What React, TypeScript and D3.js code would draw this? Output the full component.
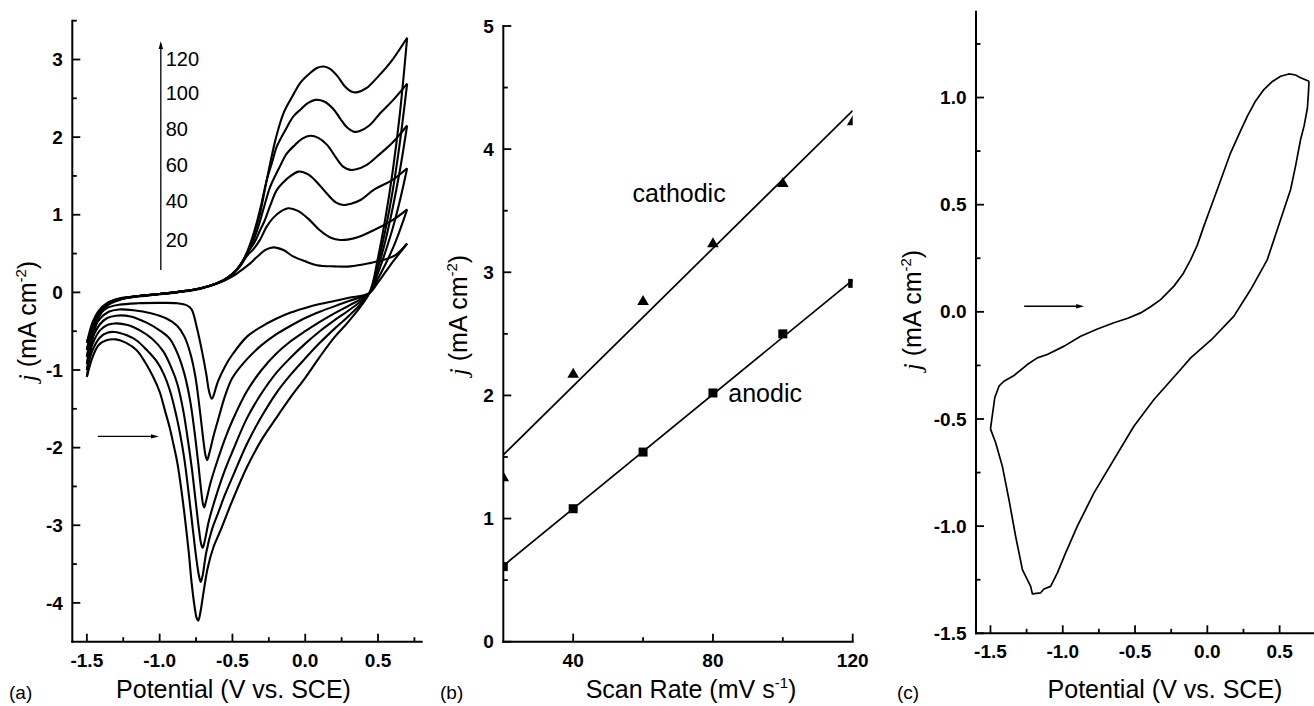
import React from "react";
import * as d3 from "d3";

const FONT = "'Liberation Sans', Arial, Helvetica, sans-serif";

// ---- (a) cyclic voltammograms at several scan rates: [potential (V), j (mA cm-2)]
const scanRates = [20, 40, 60, 80, 100, 120];

const fwd20 = [
  [-1.5, -0.65], [-1.46, -0.44], [-1.42, -0.3], [-1.36, -0.2], [-1.28, -0.16], [-1.15, -0.14],
  [-1.0, -0.135], [-0.88, -0.14], [-0.81, -0.17], [-0.78, -0.22], [-0.745, -0.45], [-0.71, -0.75],
  [-0.68, -1.05], [-0.66, -1.28], [-0.642, -1.37], [-0.63, -1.33], [-0.6, -1.15], [-0.55, -0.95],
  [-0.5, -0.8], [-0.4, -0.57], [-0.3, -0.44], [-0.2, -0.34], [-0.1, -0.26], [0, -0.2], [0.1, -0.15],
  [0.2, -0.11], [0.3, -0.07], [0.44, -0.01], [0.5, 0.13], [0.55, 0.26], [0.6, 0.39], [0.65, 0.51], [0.7, 0.63],
];
const rev20 = [
  [0.7, 0.63], [0.62, 0.48], [0.54, 0.42], [0.45, 0.38], [0.31, 0.335], [0.2, 0.335], [0.08, 0.35],
  [0.0, 0.4], [-0.08, 0.46], [-0.15, 0.545], [-0.218, 0.58], [-0.27, 0.55], [-0.33, 0.46], [-0.38, 0.37],
  [-0.45, 0.27], [-0.5, 0.205], [-0.55, 0.155], [-0.61, 0.11], [-0.723, 0.045], [-0.86, 0.005],
  [-1.0, -0.025], [-1.16, -0.055], [-1.28, -0.085], [-1.36, -0.135], [-1.42, -0.24], [-1.46, -0.38], [-1.5, -0.65],
];

const fwd40 = [
  [-1.5, -0.74], [-1.46, -0.5], [-1.41, -0.34], [-1.35, -0.25], [-1.28, -0.22], [-1.18, -0.23],
  [-1.06, -0.27], [-0.95, -0.34], [-0.88, -0.43], [-0.83, -0.57], [-0.79, -0.78], [-0.755, -1.08],
  [-0.725, -1.5], [-0.7, -1.9], [-0.685, -2.1], [-0.674, -2.16], [-0.66, -2.08], [-0.63, -1.85],
  [-0.6, -1.65], [-0.55, -1.33], [-0.5, -1.1], [-0.4, -0.86], [-0.3, -0.68], [-0.2, -0.54], [-0.1, -0.43],
  [0, -0.33], [0.1, -0.25], [0.2, -0.18], [0.3, -0.11], [0.44, -0.01], [0.5, 0.18], [0.55, 0.36],
  [0.6, 0.56], [0.65, 0.8], [0.7, 1.07],
];
const rev40 = [
  [0.7, 1.07], [0.6, 0.93], [0.47, 0.8], [0.36, 0.71], [0.29, 0.68], [0.241, 0.675], [0.18, 0.7],
  [0.1, 0.8], [0.02, 0.95], [-0.05, 1.05], [-0.115, 1.084], [-0.17, 1.04], [-0.22, 0.96], [-0.264, 0.85],
  [-0.31, 0.68], [-0.35, 0.57], [-0.4, 0.47], [-0.45, 0.33], [-0.5, 0.24], [-0.55, 0.17], [-0.61, 0.115],
  [-0.723, 0.05], [-0.86, 0.01], [-1.0, -0.02], [-1.16, -0.05], [-1.28, -0.08], [-1.36, -0.14],
  [-1.42, -0.25], [-1.46, -0.42], [-1.5, -0.74],
];

const fwd60 = [
  [-1.5, -0.83], [-1.46, -0.58], [-1.41, -0.41], [-1.36, -0.33], [-1.3, -0.3], [-1.2, -0.31],
  [-1.09, -0.39], [-1.0, -0.49], [-0.93, -0.6], [-0.87, -0.82], [-0.83, -1.05], [-0.79, -1.4],
  [-0.76, -1.8], [-0.735, -2.2], [-0.715, -2.55], [-0.702, -2.73], [-0.694, -2.77], [-0.68, -2.68],
  [-0.65, -2.45], [-0.6, -2.15], [-0.55, -1.88], [-0.5, -1.65], [-0.4, -1.27], [-0.3, -1.0],
  [-0.2, -0.79], [-0.1, -0.63], [0, -0.5], [0.1, -0.38], [0.2, -0.27], [0.3, -0.17], [0.44, -0.01],
  [0.5, 0.25], [0.55, 0.52], [0.6, 0.82], [0.65, 1.18], [0.7, 1.6],
];
const rev60 = [
  [0.7, 1.6], [0.6, 1.45], [0.47, 1.32], [0.38, 1.19], [0.31, 1.14], [0.264, 1.126], [0.21, 1.16],
  [0.15, 1.27], [0.08, 1.42], [0.02, 1.52], [-0.046, 1.556], [-0.1, 1.5], [-0.15, 1.42], [-0.195, 1.32],
  [-0.24, 1.12], [-0.28, 0.92], [-0.31, 0.8], [-0.35, 0.64], [-0.4, 0.5], [-0.45, 0.34], [-0.5, 0.24],
  [-0.55, 0.17], [-0.61, 0.115], [-0.723, 0.05], [-0.86, 0.01], [-1.0, -0.02], [-1.16, -0.05],
  [-1.28, -0.085], [-1.36, -0.15], [-1.42, -0.27], [-1.46, -0.46], [-1.5, -0.83],
];

const fwd80 = [
  [-1.5, -0.92], [-1.46, -0.66], [-1.41, -0.49], [-1.36, -0.42], [-1.31, -0.4], [-1.22, -0.42],
  [-1.136, -0.49], [-1.05, -0.6], [-0.975, -0.76], [-0.92, -0.97], [-0.88, -1.17], [-0.84, -1.5],
  [-0.81, -1.85], [-0.78, -2.25], [-0.755, -2.65], [-0.73, -3.05], [-0.714, -3.25], [-0.704, -3.29],
  [-0.69, -3.2], [-0.66, -2.93], [-0.6, -2.55], [-0.55, -2.28], [-0.5, -2.05], [-0.4, -1.62],
  [-0.3, -1.3], [-0.2, -1.04], [-0.1, -0.84], [0, -0.66], [0.1, -0.5], [0.2, -0.36], [0.3, -0.23],
  [0.44, -0.01], [0.5, 0.32], [0.55, 0.66], [0.6, 1.08], [0.65, 1.57], [0.7, 2.15],
];
const rev80 = [
  [0.7, 2.15], [0.6, 1.93], [0.493, 1.75], [0.42, 1.64], [0.35, 1.585], [0.31, 1.578], [0.26, 1.62],
  [0.21, 1.74], [0.15, 1.9], [0.09, 1.99], [0.034, 2.017], [-0.02, 1.98], [-0.07, 1.9], [-0.126, 1.79],
  [-0.18, 1.6], [-0.241, 1.36], [-0.28, 1.12], [-0.32, 0.86], [-0.36, 0.65], [-0.4, 0.5], [-0.45, 0.34],
  [-0.5, 0.24], [-0.55, 0.17], [-0.61, 0.115], [-0.723, 0.05], [-0.86, 0.01], [-1.0, -0.02],
  [-1.16, -0.05], [-1.28, -0.09], [-1.36, -0.155], [-1.42, -0.28], [-1.46, -0.5], [-1.5, -0.92],
];

const fwd100 = [
  [-1.5, -1.0], [-1.46, -0.74], [-1.41, -0.58], [-1.36, -0.52], [-1.31, -0.51], [-1.23, -0.55],
  [-1.158, -0.62], [-1.09, -0.74], [-1.02, -0.89], [-0.97, -1.06], [-0.93, -1.26], [-0.89, -1.55],
  [-0.86, -1.82], [-0.83, -2.15], [-0.8, -2.6], [-0.775, -3.0], [-0.75, -3.4], [-0.73, -3.65],
  [-0.718, -3.73], [-0.705, -3.65], [-0.68, -3.35], [-0.64, -3.05], [-0.6, -2.85], [-0.55, -2.6],
  [-0.5, -2.38], [-0.4, -1.95], [-0.3, -1.6], [-0.2, -1.3], [-0.1, -1.06], [0, -0.85], [0.1, -0.65],
  [0.2, -0.47], [0.3, -0.3], [0.44, -0.01], [0.5, 0.38], [0.55, 0.8], [0.6, 1.3], [0.65, 1.93], [0.7, 2.69],
];
const rev100 = [
  [0.7, 2.69], [0.6, 2.47], [0.516, 2.31], [0.44, 2.15], [0.37, 2.075], [0.333, 2.07], [0.29, 2.12],
  [0.24, 2.24], [0.19, 2.37], [0.13, 2.46], [0.069, 2.48], [0.02, 2.44], [-0.03, 2.36], [-0.08, 2.27],
  [-0.14, 2.08], [-0.195, 1.88], [-0.23, 1.66], [-0.264, 1.45], [-0.3, 1.15], [-0.34, 0.85],
  [-0.379, 0.62], [-0.43, 0.4], [-0.493, 0.245], [-0.55, 0.165], [-0.608, 0.116], [-0.723, 0.05],
  [-0.86, 0.01], [-1.0, -0.02], [-1.16, -0.05], [-1.28, -0.095], [-1.36, -0.16], [-1.42, -0.3],
  [-1.46, -0.55], [-1.5, -1.0],
];

const fwd120 = [
  [-1.5, -1.09], [-1.46, -0.83], [-1.42, -0.68], [-1.37, -0.62], [-1.3, -0.605], [-1.23, -0.65],
  [-1.158, -0.745], [-1.1, -0.9], [-1.044, -1.09], [-1.0, -1.28], [-0.964, -1.52], [-0.93, -1.75],
  [-0.906, -1.95], [-0.88, -2.18], [-0.86, -2.42], [-0.83, -2.85], [-0.8, -3.35], [-0.78, -3.75],
  [-0.76, -4.05], [-0.745, -4.2], [-0.735, -4.23], [-0.72, -4.12], [-0.7, -3.88], [-0.67, -3.55],
  [-0.63, -3.28], [-0.585, -3.08], [-0.5, -2.68], [-0.4, -2.25], [-0.3, -1.9], [-0.2, -1.62],
  [-0.1, -1.35], [0, -1.1], [0.1, -0.83], [0.2, -0.58], [0.3, -0.37], [0.44, -0.01], [0.5, 0.45],
  [0.55, 0.95], [0.6, 1.55], [0.65, 2.3], [0.7, 3.28],
];
const rev120 = [
  [0.7, 3.28], [0.6, 3.0], [0.5, 2.78], [0.42, 2.63], [0.36, 2.58], [0.32, 2.585], [0.27, 2.66],
  [0.22, 2.79], [0.17, 2.88], [0.126, 2.91], [0.08, 2.89], [0.03, 2.82], [-0.034, 2.7], [-0.09, 2.52],
  [-0.149, 2.31], [-0.2, 2.0], [-0.241, 1.66], [-0.28, 1.3], [-0.31, 1.02], [-0.35, 0.76],
  [-0.379, 0.59], [-0.43, 0.4], [-0.493, 0.245], [-0.55, 0.165], [-0.608, 0.116], [-0.723, 0.05],
  [-0.86, 0.01], [-1.0, -0.02], [-1.16, -0.05], [-1.28, -0.1], [-1.36, -0.17], [-1.42, -0.33],
  [-1.46, -0.6], [-1.5, -1.09],
];

const cvCurves = [
  { rate: 20, fwd: fwd20, rev: rev20 },
  { rate: 40, fwd: fwd40, rev: rev40 },
  { rate: 60, fwd: fwd60, rev: rev60 },
  { rate: 80, fwd: fwd80, rev: rev80 },
  { rate: 100, fwd: fwd100, rev: rev100 },
  { rate: 120, fwd: fwd120, rev: rev120 },
];

// ---- (b) peak current density vs scan rate
const cathodicJ = [1.34, 2.18, 2.77, 3.24, 3.73, 4.23];
const anodicJ = [0.61, 1.08, 1.54, 2.02, 2.5, 2.91];

// ---- (c) single voltammogram
const cFwd = [
  [-1.5, -0.546], [-1.47, -0.4], [-1.441, -0.347], [-1.407, -0.324], [-1.337, -0.297], [-1.245, -0.246],
  [-1.176, -0.215], [-1.107, -0.199], [-0.99, -0.16], [-0.876, -0.114], [-0.76, -0.08], [-0.646, -0.051],
  [-0.55, -0.03], [-0.461, -0.005], [-0.39, 0.025], [-0.323, 0.057], [-0.231, 0.12], [-0.17, 0.175],
  [-0.115, 0.244], [-0.07, 0.31], [-0.024, 0.4], [0.069, 0.571], [0.161, 0.742], [0.22, 0.83],
  [0.277, 0.913], [0.33, 0.98], [0.391, 1.037], [0.45, 1.075], [0.507, 1.099], [0.564, 1.11],
  [0.61, 1.105], [0.645, 1.092], [0.703, 1.076],
];
const cRev = [
  [0.703, 1.076], [0.7, 1.03], [0.692, 0.95], [0.67, 0.87], [0.645, 0.804], [0.61, 0.68], [0.576, 0.571],
  [0.507, 0.431], [0.415, 0.244], [0.3, 0.104], [0.184, -0.02], [0.03, -0.129], [-0.115, -0.215],
  [-0.185, -0.269], [-0.369, -0.409], [-0.508, -0.534], [-0.646, -0.689], [-0.784, -0.845],
  [-0.899, -1.0], [-0.98, -1.125], [-1.037, -1.218], [-1.084, -1.281], [-1.13, -1.293], [-1.153, -1.311],
  [-1.21, -1.316], [-1.222, -1.281], [-1.279, -1.203], [-1.326, -1.047], [-1.372, -0.876],
  [-1.418, -0.72], [-1.464, -0.611], [-1.5, -0.546],
];

// ---- ticks
const aXTicks = [-1.5, -1.0, -0.5, 0.0, 0.5];
const aXMinor = [-1.25, -0.75, -0.25, 0.25, 0.75];
const aYTicks = [-4, -3, -2, -1, 0, 1, 2, 3];
const aYMinor = [-3.5, -2.5, -1.5, -0.5, 0.5, 1.5, 2.5, 3.5];
const bXTicks = [40, 80, 120];
const bXMinor = [60, 100];
const bYTicks = [0, 1, 2, 3, 4, 5];
const bYMinor = [0.5, 1.5, 2.5, 3.5, 4.5];
const cXTicks = [-1.5, -1.0, -0.5, 0.0, 0.5];
const cXMinor = [-1.25, -0.75, -0.25, 0.25, 0.75];
const cYTicks = [-1.5, -1.0, -0.5, 0.0, 0.5, 1.0];
const cYMinor = [-1.25, -0.75, -0.25, 0.25, 0.75, 1.25];

const fix1 = (t: number) => t.toFixed(1);
const int = (t: number) => String(t);

const Frame = ({ x, y, xTicks, xMinor, yTicks, yMinor, xFmt, yFmt }: any) => {
  const [x0, x1] = x.range();
  const [y0, y1] = y.range();
  return (
    <g fontFamily={FONT} fontWeight="bold" fontSize={19}>
      <line x1={x0} x2={x0} y1={y0} y2={y1} stroke="#000" strokeWidth={2} strokeLinecap="square" />
      <line x1={x0} x2={x1} y1={y0} y2={y0} stroke="#000" strokeWidth={2} strokeLinecap="square" />
      {xTicks.map((t: number) => (
        <g key={`xt-${t}`}>
          <line x1={x(t)} x2={x(t)} y1={y0} y2={y0 - 8} stroke="#000" strokeWidth={1.8} />
          <text x={x(t)} y={y0 + 25} textAnchor="middle">{xFmt(t)}</text>
        </g>
      ))}
      {xMinor.map((t: number) => (
        <line key={`xm-${t}`} x1={x(t)} x2={x(t)} y1={y0} y2={y0 - 4.5} stroke="#000" strokeWidth={1.8} />
      ))}
      {yTicks.map((t: number) => (
        <g key={`yt-${t}`}>
          <line x1={x0} x2={x0 + 8} y1={y(t)} y2={y(t)} stroke="#000" strokeWidth={1.8} />
          <text x={x0 - 9.5} y={y(t)} dy="0.35em" textAnchor="end">{yFmt(t)}</text>
        </g>
      ))}
      {yMinor.map((t: number) => (
        <line key={`ym-${t}`} x1={x0} x2={x0 + 4.5} y1={y(t)} y2={y(t)} stroke="#000" strokeWidth={1.8} />
      ))}
    </g>
  );
};

const YTitle = ({ x, y }: { x: number; y: number }) => (
  <text transform={`translate(${x},${y}) rotate(-90)`} textAnchor="middle" fontFamily={FONT} fontSize={25}>
    <tspan fontFamily="'Liberation Serif', 'Times New Roman', serif" fontStyle="italic">j</tspan>
    <tspan> (mA cm</tspan>
    <tspan dy={-10} fontSize={15}>-2</tspan>
    <tspan dy={10}>)</tspan>
  </text>
);

const Arrow = ({ x1, y1, x2, y2 }: { x1: number; y1: number; x2: number; y2: number }) => {
  const a = Math.atan2(y2 - y1, x2 - x1);
  const L = 8, W = 2.2;
  const bx = x2 - L * Math.cos(a), by = y2 - L * Math.sin(a);
  const px = -Math.sin(a) * W, py = Math.cos(a) * W;
  return (
    <g>
      <line x1={x1} y1={y1} x2={bx} y2={by} stroke="#000" strokeWidth={1.3} />
      <polygon points={`${x2},${y2} ${bx + px},${by + py} ${bx - px},${by - py}`} fill="#000" />
    </g>
  );
};

const fit = (xs: number[], ys: number[]) => {
  const mx = d3.mean(xs) as number;
  const my = d3.mean(ys) as number;
  const sxy = d3.sum(xs, (v, i) => (v - mx) * (ys[i] - my));
  const sxx = d3.sum(xs, (v) => (v - mx) ** 2);
  const k = sxy / sxx;
  return (v: number) => my + k * (v - mx);
};

export default function App() {
  // panel (a)
  const ax = d3.scaleLinear().domain([-1.6, 0.8]).range([72.3, 421.7]);
  const ay = d3.scaleLinear().domain([-4.5, 3.5]).range([641.7, 20.7]);
  const aLine = d3
    .line<number[]>()
    .x((d) => ax(d[0]))
    .y((d) => ay(d[1]))
    .curve(d3.curveCatmullRom.alpha(0.5));

  // panel (b)
  const bx = d3.scaleLinear().domain([20, 120]).range([503.3, 852.7]);
  const by = d3.scaleLinear().domain([0, 5]).range([641.7, 26]);
  const cathFit = fit(scanRates, cathodicJ);
  const anoFit = fit(scanRates, anodicJ);
  const [r0, r1] = bx.domain();

  // panel (c)
  const cx = d3.scaleLinear().domain([-1.6, 0.8]).range([976, 1323]);
  const cy = d3.scaleLinear().domain([-1.5, 1.4]).range([633.3, 11.8]);
  const cLine = d3
    .line<number[]>()
    .x((d) => cx(d[0]))
    .y((d) => cy(d[1]));

  return (
    <svg
      width={1314}
      height={706}
      style={{ position: "absolute", left: 0, top: 0, background: "#fff" }}
    >
      <defs>
        <clipPath id="clipB">
          <rect x={503.3} y={20} width={852.7 - 503.3} height={641.7 - 20} />
        </clipPath>
      </defs>

      {/* ---------- (a) ---------- */}
      <Frame x={ax} y={ay} xTicks={aXTicks} xMinor={aXMinor} yTicks={aYTicks} yMinor={aYMinor} xFmt={fix1} yFmt={int} />
      <g fill="none" stroke="#000" strokeWidth={2.1} strokeLinejoin="round">
        {cvCurves.map((c) => (
          <g key={`cv-${c.rate}`}>
            <path d={aLine(c.fwd) as string} />
            <path d={aLine(c.rev) as string} />
          </g>
        ))}
      </g>
      <Arrow x1={ax(-0.992)} y1={ay(0.29)} x2={ax(-0.992)} y2={ay(3.24)} />
      <g fontFamily={FONT} fontSize={20}>
        {cvCurves.map((c) => {
          const peak = d3.max(c.rev.filter((p) => p[0] < 0.3), (p) => p[1]) as number;
          return (
            <text key={`lab-${c.rate}`} x={ax(-0.958)} y={ay(peak)}>
              {c.rate}
            </text>
          );
        })}
      </g>
      <Arrow x1={ax(-1.425)} y1={ay(-1.855)} x2={ax(-1.005)} y2={ay(-1.855)} />
      <YTitle x={36} y={321} />
      <text x={233.5} y={698} textAnchor="middle" fontFamily={FONT} fontSize={25}>
        Potential (V vs. SCE)
      </text>
      <text x={9} y={699} fontFamily={FONT} fontSize={19}>(a)</text>

      {/* ---------- (b) ---------- */}
      <Frame x={bx} y={by} xTicks={bXTicks} xMinor={bXMinor} yTicks={bYTicks} yMinor={bYMinor} xFmt={int} yFmt={int} />
      <g clipPath="url(#clipB)">
        <line x1={bx(r0)} y1={by(cathFit(r0))} x2={bx(r1)} y2={by(cathFit(r1))} stroke="#000" strokeWidth={1.7} />
        <line x1={bx(r0)} y1={by(anoFit(r0))} x2={bx(r1)} y2={by(anoFit(r1))} stroke="#000" strokeWidth={1.7} />
        {scanRates.map((r, i) => {
          const px = bx(r), py = by(cathodicJ[i]);
          return (
            <polygon
              key={`tri-${r}`}
              points={`${px},${py - 5.5} ${px + 5.8},${py + 4.5} ${px - 5.8},${py + 4.5}`}
              fill="#000"
            />
          );
        })}
        {scanRates.map((r, i) => (
          <rect key={`sq-${r}`} x={bx(r) - 4.5} y={by(anodicJ[i]) - 4.5} width={9} height={9} fill="#000" />
        ))}
      </g>
      <text x={bx(57)} y={by(3.57)} fontFamily={FONT} fontSize={25}>cathodic</text>
      <text x={bx(84.4)} y={by(1.946)} fontFamily={FONT} fontSize={25}>anodic</text>
      <YTitle x={467} y={315} />
      <text x={691} y={698} textAnchor="middle" fontFamily={FONT} fontSize={25}>
        Scan Rate (mV s<tspan dy={-10} fontSize={15}>-1</tspan>
        <tspan dy={10}>)</tspan>
      </text>
      <text x={440} y={699} fontFamily={FONT} fontSize={19}>(b)</text>

      {/* ---------- (c) ---------- */}
      <Frame x={cx} y={cy} xTicks={cXTicks} xMinor={cXMinor} yTicks={cYTicks} yMinor={cYMinor} xFmt={fix1} yFmt={fix1} />
      <g fill="none" stroke="#000" strokeWidth={1.7} strokeLinejoin="round">
        <path d={cLine(cFwd) as string} />
        <path d={cLine(cRev) as string} />
      </g>
      <Arrow x1={cx(-1.267)} y1={cy(0.026)} x2={cx(-0.852)} y2={cy(0.026)} />
      <YTitle x={921} y={310} />
      <text x={1165} y={698} textAnchor="middle" fontFamily={FONT} fontSize={25}>
        Potential (V vs. SCE)
      </text>
      <text x={897} y={699} fontFamily={FONT} fontSize={19}>(c)</text>
    </svg>
  );
}
